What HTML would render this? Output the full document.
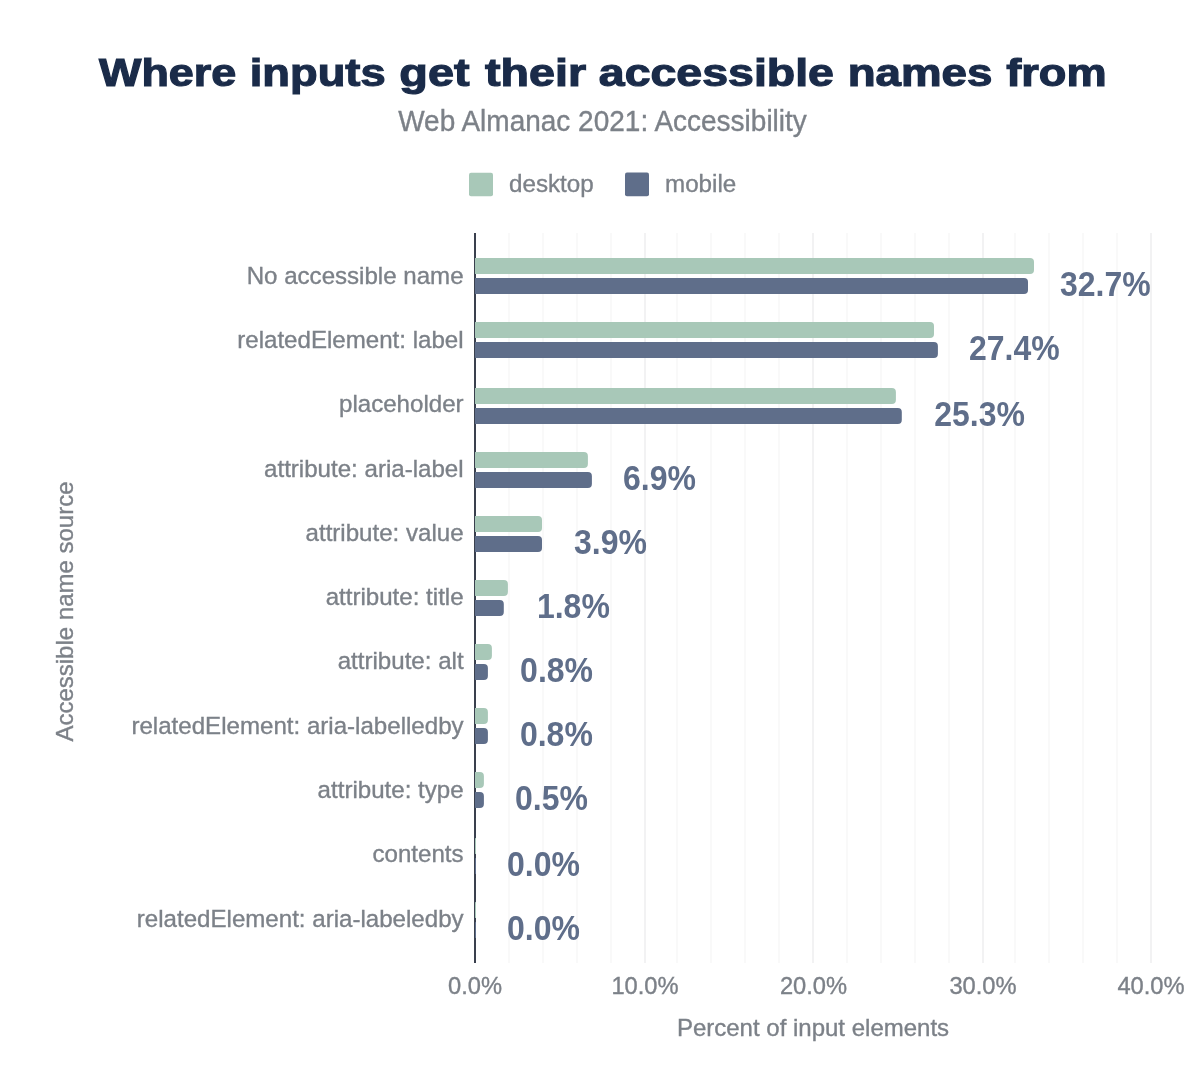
<!DOCTYPE html>
<html><head><meta charset="utf-8">
<style>
html,body{margin:0;padding:0;background:#fff;}
body{width:1200px;height:1074px;overflow:hidden;}
svg{display:block;font-family:"Liberation Sans",sans-serif;will-change:transform;}
.lbl{font-size:24px;fill:#7c8188;stroke:#7c8188;stroke-width:0.35px;}
.sub{fill:#7c8188;stroke:#7c8188;stroke-width:0.35px;}
.val{font-size:32px;font-weight:bold;fill:#5f6e8a;}
</style></head><body>
<svg width="1200" height="1074" viewBox="0 0 1200 1074">
<rect width="1200" height="1074" fill="#fff"/>
<g transform="translate(0,85.8) scale(1,0.95) translate(0,-85.8)" font-size="40" font-weight="bold" fill="#1a2b49" stroke="#1a2b49" stroke-width="1.2"><text x="99.0" y="85.8" textLength="137.28" lengthAdjust="spacingAndGlyphs">Where</text><text x="249.74" y="85.8" textLength="135.88" lengthAdjust="spacingAndGlyphs">inputs</text><text x="399.33" y="85.8" textLength="70.17" lengthAdjust="spacingAndGlyphs">get</text><text x="485.0" y="85.8" textLength="101.14" lengthAdjust="spacingAndGlyphs">their</text><text x="598.84" y="85.8" textLength="235.12" lengthAdjust="spacingAndGlyphs">accessible</text><text x="847.72" y="85.8" textLength="144.64" lengthAdjust="spacingAndGlyphs">names</text><text x="1006.25" y="85.8" textLength="100.39" lengthAdjust="spacingAndGlyphs">from</text></g>
<text transform="translate(602.5,130.8) scale(1,1.07)" text-anchor="middle" font-size="28" class="sub">Web Almanac 2021: Accessibility</text>
<rect x="469" y="172.7" width="24" height="23.6" rx="2" fill="#a8c8b8"/>
<text x="509" y="191.6" class="lbl" style="font-size:24.2px">desktop</text>
<rect x="625" y="172.5" width="24" height="23.8" rx="2" fill="#5f6e8a"/>
<text x="665" y="191.6" class="lbl" style="font-size:24.2px">mobile</text>
<rect x="508.00" y="233" width="2" height="730" fill="#f9f9f9"/>
<rect x="542.00" y="233" width="2" height="730" fill="#f9f9f9"/>
<rect x="576.00" y="233" width="2" height="730" fill="#f9f9f9"/>
<rect x="610.00" y="233" width="2" height="730" fill="#f9f9f9"/>
<rect x="644.00" y="233" width="2" height="730" fill="#f2f2f3"/>
<rect x="676.00" y="233" width="2" height="730" fill="#f9f9f9"/>
<rect x="710.00" y="233" width="2" height="730" fill="#f9f9f9"/>
<rect x="744.00" y="233" width="2" height="730" fill="#f9f9f9"/>
<rect x="778.00" y="233" width="2" height="730" fill="#f9f9f9"/>
<rect x="812.00" y="233" width="2" height="730" fill="#f2f2f3"/>
<rect x="846.00" y="233" width="2" height="730" fill="#f9f9f9"/>
<rect x="880.00" y="233" width="2" height="730" fill="#f9f9f9"/>
<rect x="914.00" y="233" width="2" height="730" fill="#f9f9f9"/>
<rect x="948.00" y="233" width="2" height="730" fill="#f9f9f9"/>
<rect x="982.00" y="233" width="2" height="730" fill="#f2f2f3"/>
<rect x="1014.00" y="233" width="2" height="730" fill="#f9f9f9"/>
<rect x="1048.00" y="233" width="2" height="730" fill="#f9f9f9"/>
<rect x="1082.00" y="233" width="2" height="730" fill="#f9f9f9"/>
<rect x="1116.00" y="233" width="2" height="730" fill="#f9f9f9"/>
<rect x="1150.00" y="233" width="2" height="730" fill="#f2f2f3"/>
<rect x="474" y="233" width="2" height="730" fill="#3a404e"/>
<path d="M475,258 H1030.00 Q1034.00,258 1034.00,262 V270 Q1034.00,274 1030.00,274 H475 Z" fill="#a8c8b8"/>
<path d="M475,278 H1024.00 Q1028.00,278 1028.00,282 V290 Q1028.00,294 1024.00,294 H475 Z" fill="#5f6e8a"/>
<path d="M475,322 H930.00 Q934.00,322 934.00,326 V334 Q934.00,338 930.00,338 H475 Z" fill="#a8c8b8"/>
<path d="M475,342 H933.90 Q937.90,342 937.90,346 V354 Q937.90,358 933.90,358 H475 Z" fill="#5f6e8a"/>
<path d="M475,388 H891.90 Q895.90,388 895.90,392 V400 Q895.90,404 891.90,404 H475 Z" fill="#a8c8b8"/>
<path d="M475,408 H897.80 Q901.80,408 901.80,412 V420 Q901.80,424 897.80,424 H475 Z" fill="#5f6e8a"/>
<path d="M475,452 H583.90 Q587.90,452 587.90,456 V464 Q587.90,468 583.90,468 H475 Z" fill="#a8c8b8"/>
<path d="M475,472 H587.90 Q591.90,472 591.90,476 V484 Q591.90,488 587.90,488 H475 Z" fill="#5f6e8a"/>
<path d="M475,516 H538.00 Q542.00,516 542.00,520 V528 Q542.00,532 538.00,532 H475 Z" fill="#a8c8b8"/>
<path d="M475,536 H538.00 Q542.00,536 542.00,540 V548 Q542.00,552 538.00,552 H475 Z" fill="#5f6e8a"/>
<path d="M475,580 H503.90 Q507.90,580 507.90,584 V592 Q507.90,596 503.90,596 H475 Z" fill="#a8c8b8"/>
<path d="M475,600 H499.80 Q503.80,600 503.80,604 V612 Q503.80,616 499.80,616 H475 Z" fill="#5f6e8a"/>
<path d="M475,644 H487.90 Q491.90,644 491.90,648 V656 Q491.90,660 487.90,660 H475 Z" fill="#a8c8b8"/>
<path d="M475,664 H483.90 Q487.90,664 487.90,668 V676 Q487.90,680 483.90,680 H475 Z" fill="#5f6e8a"/>
<path d="M475,708 H483.90 Q487.90,708 487.90,712 V720 Q487.90,724 483.90,724 H475 Z" fill="#a8c8b8"/>
<path d="M475,728 H483.90 Q487.90,728 487.90,732 V740 Q487.90,744 483.90,744 H475 Z" fill="#5f6e8a"/>
<path d="M475,772 H479.90 Q483.90,772 483.90,776 V784 Q483.90,788 479.90,788 H475 Z" fill="#a8c8b8"/>
<path d="M475,792 H479.90 Q483.90,792 483.90,796 V804 Q483.90,808 479.90,808 H475 Z" fill="#5f6e8a"/>
<path d="M475,838 H475.50 Q476.00,838 476.00,838.5 V853.5 Q476.00,854 475.50,854 H475 Z" fill="#a8c8b8"/>
<path d="M475,858 H475.50 Q476.00,858 476.00,858.5 V873.5 Q476.00,874 475.50,874 H475 Z" fill="#5f6e8a"/>
<path d="M475,902 H475.50 Q476.00,902 476.00,902.5 V917.5 Q476.00,918 475.50,918 H475 Z" fill="#a8c8b8"/>
<path d="M475,922 H475.50 Q476.00,922 476.00,922.5 V937.5 Q476.00,938 475.50,938 H475 Z" fill="#5f6e8a"/>
<text x="463.6" y="283.6" text-anchor="end" class="lbl" style="font-size:24.1px">No accessible name</text>
<text x="463.6" y="347.9" text-anchor="end" class="lbl" style="font-size:24.1px">relatedElement: label</text>
<text x="463.6" y="412.2" text-anchor="end" class="lbl" style="font-size:24.1px">placeholder</text>
<text x="463.6" y="476.5" text-anchor="end" class="lbl" style="font-size:24.1px">attribute: aria-label</text>
<text x="463.6" y="540.8" text-anchor="end" class="lbl" style="font-size:24.1px">attribute: value</text>
<text x="463.6" y="605.1" text-anchor="end" class="lbl" style="font-size:24.1px">attribute: title</text>
<text x="463.6" y="669.4" text-anchor="end" class="lbl" style="font-size:24.1px">attribute: alt</text>
<text x="463.6" y="733.7" text-anchor="end" class="lbl" style="font-size:24.1px">relatedElement: aria-labelledby</text>
<text x="463.6" y="798.0" text-anchor="end" class="lbl" style="font-size:24.1px">attribute: type</text>
<text x="463.6" y="862.3" text-anchor="end" class="lbl" style="font-size:24.1px">contents</text>
<text x="463.6" y="926.6" text-anchor="end" class="lbl" style="font-size:24.1px">relatedElement: aria-labeledby</text>
<text transform="translate(1060.0,296.0) scale(1,1.077)" class="val">32.7%</text>
<text transform="translate(968.9,360.0) scale(1,1.077)" class="val">27.4%</text>
<text transform="translate(934.2,426.0) scale(1,1.077)" class="val">25.3%</text>
<text transform="translate(623.0,490.0) scale(1,1.077)" class="val">6.9%</text>
<text transform="translate(574.0,554.0) scale(1,1.077)" class="val">3.9%</text>
<text transform="translate(536.9,618.0) scale(1,1.077)" class="val">1.8%</text>
<text transform="translate(520.1,682.0) scale(1,1.077)" class="val">0.8%</text>
<text transform="translate(519.9,746.0) scale(1,1.077)" class="val">0.8%</text>
<text transform="translate(515.0,810.0) scale(1,1.077)" class="val">0.5%</text>
<text transform="translate(507.0,876.0) scale(1,1.077)" class="val">0.0%</text>
<text transform="translate(507.0,940.0) scale(1,1.077)" class="val">0.0%</text>
<text x="475.0" y="994.2" text-anchor="middle" class="lbl" style="font-size:23.7px">0.0%</text>
<text x="645.0" y="994.2" text-anchor="middle" class="lbl" style="font-size:23.7px">10.0%</text>
<text x="813.5" y="994.2" text-anchor="middle" class="lbl" style="font-size:23.7px">20.0%</text>
<text x="983.0" y="994.2" text-anchor="middle" class="lbl" style="font-size:23.7px">30.0%</text>
<text x="1151.0" y="994.2" text-anchor="middle" class="lbl" style="font-size:23.7px">40.0%</text>
<text x="813" y="1036" text-anchor="middle" class="lbl">Percent of input elements</text>
<text transform="translate(73,611.5) rotate(-90)" text-anchor="middle" class="lbl">Accessible name source</text>
</svg>
</body></html>
